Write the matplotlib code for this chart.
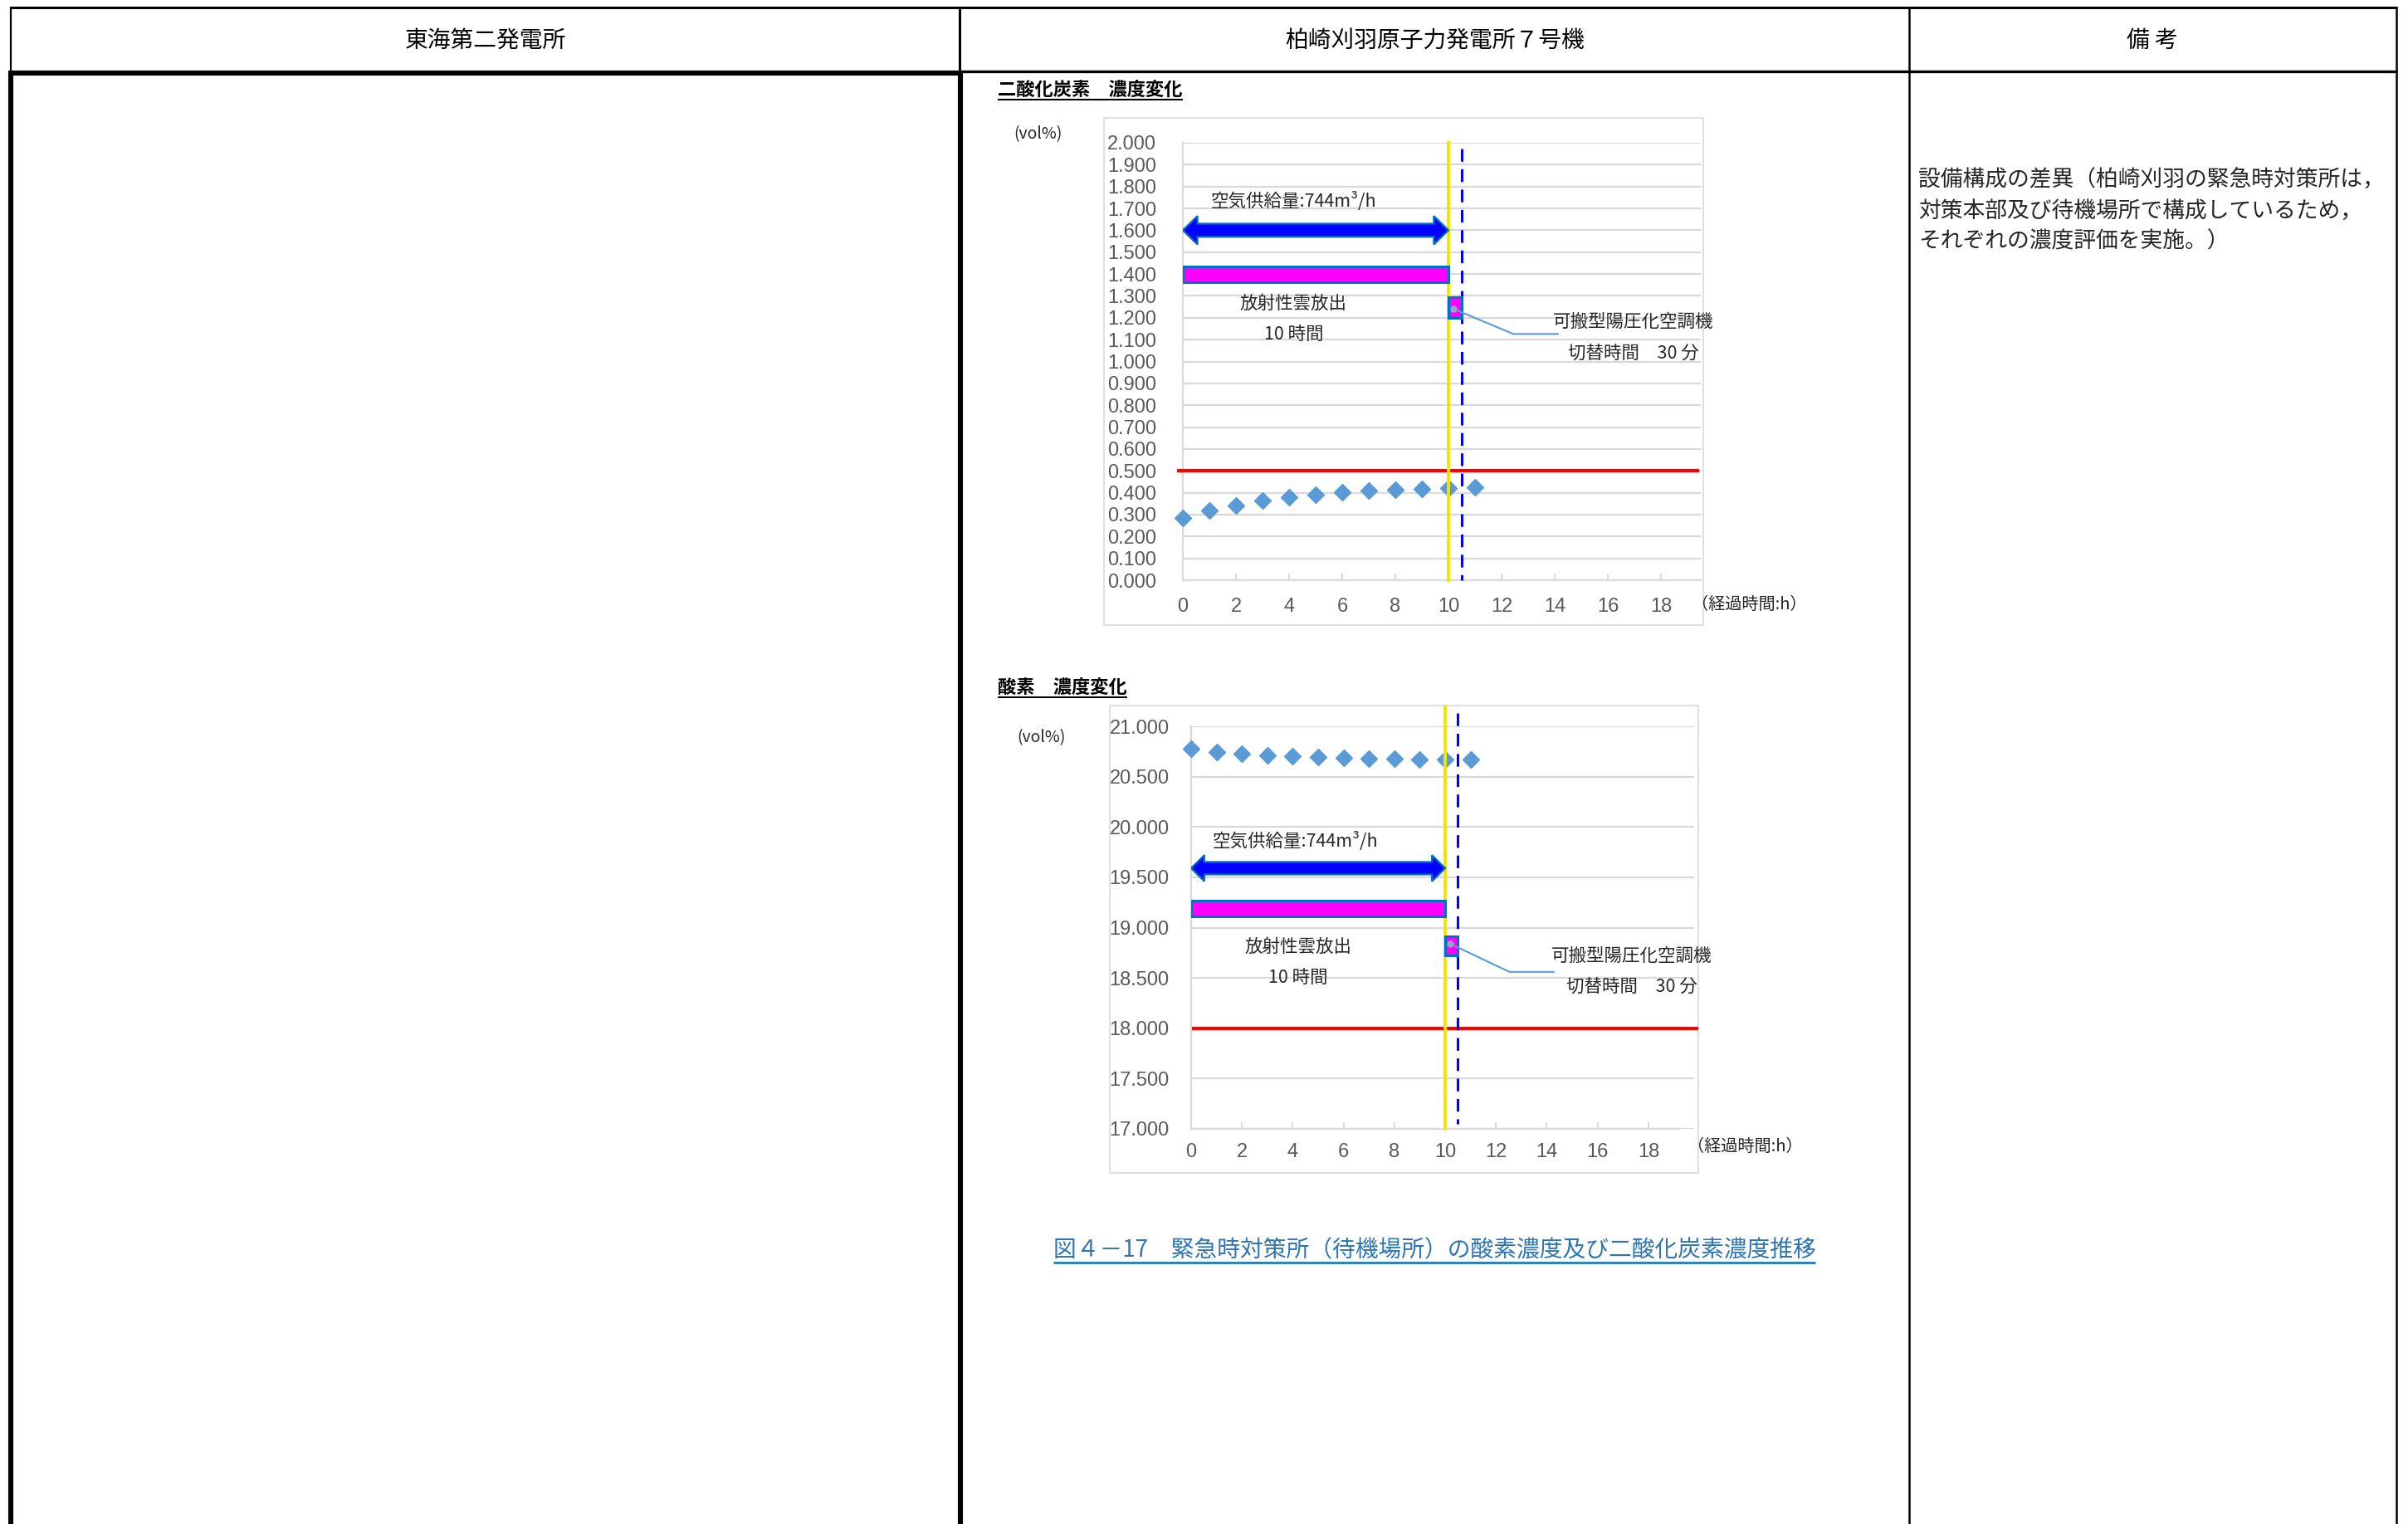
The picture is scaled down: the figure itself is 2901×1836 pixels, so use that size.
import matplotlib
matplotlib.use("Agg")
import matplotlib.pyplot as plt
from matplotlib.patches import Polygon, Rectangle

plt.rcParams['font.family'] = ['Noto Sans CJK JP', 'DejaVu Sans']

W, H = 2901, 1836

# ---- data ----
hours = [0, 1, 2, 3, 4, 5, 6, 7, 8, 9, 10, 11]
co2 = [0.285, 0.318, 0.343, 0.364, 0.380, 0.392, 0.402, 0.408, 0.413, 0.416, 0.420, 0.425]
o2 = [20.775, 20.748, 20.730, 20.712, 20.700, 20.693, 20.686, 20.680, 20.676, 20.670, 20.667, 20.670]
co2_limit = 0.5
o2_limit = 18.0
release_hours = (0, 10)      # 放射性雲放出 10時間
switch_hours = (10, 10.5)    # 切替時間 30分
x_ticks = [0, 2, 4, 6, 8, 10, 12, 14, 16, 18]
co2_ticks = [0.0, 0.1, 0.2, 0.3, 0.4, 0.5, 0.6, 0.7, 0.8, 0.9, 1.0,
             1.1, 1.2, 1.3, 1.4, 1.5, 1.6, 1.7, 1.8, 1.9, 2.0]
o2_ticks = [17.0, 17.5, 18.0, 18.5, 19.0, 19.5, 20.0, 20.5, 21.0]

headers = ['東海第二発電所', '柏崎刈羽原子力発電所７号機', '備 考']
remarks = ['設備構成の差異（柏崎刈羽の緊急時対策所は，',
           '対策本部及び待機場所で構成しているため，',
           'それぞれの濃度評価を実施。）']
caption = '図４－17　緊急時対策所（待機場所）の酸素濃度及び二酸化炭素濃度推移'
titles = ['二酸化炭素　濃度変化', '酸素　濃度変化']

BLUE_PT = '#5B9BD5'
EDGE = '#0070C0'
GRID = '#D9D9D9'
TICK = '#595959'
TXT = '#262626'

fig = plt.figure(figsize=(W / 100, H / 100), dpi=100)
bg = fig.add_axes([0, 0, 1, 1])
bg.set_xlim(0, W)
bg.set_ylim(H, 0)
bg.axis('off')

# ---- table frame ----
def hline(y, x0, x1, lw):
    bg.plot([x0, x1], [y, y], color='black', lw=lw, solid_capstyle='butt')

def vline(x, y0, y1, lw):
    bg.plot([x, x], [y0, y1], color='black', lw=lw, solid_capstyle='butt')

hline(9, 12, 2888, 2.2)
vline(13, 8, 88, 1.6)
vline(13, 85, H, 4.4)
hline(88, 10, 1160, 4.4)
hline(86, 1157, 2888, 2.4)
vline(1155.5, 8, 88, 2.2)
vline(1157, 85, H, 4.4)
vline(2300, 8, H, 1.8)
vline(2887, 8, H, 1.8)

for cx, s in zip([585, 1728, 2593], headers):
    bg.text(cx, 49, s, ha='center', va='center', fontsize=20, color='black')

for i, line in enumerate(remarks):
    bg.text(2311, 217 + i * 37, line, ha='left', va='center', fontsize=19.3, color=TXT)

underlined = []
t1 = bg.text(1202, 115, titles[0], ha='left', va='baseline', fontsize=16,
             fontweight='bold', color='black')
t2 = bg.text(1202, 835, titles[1], ha='left', va='baseline', fontsize=16,
             fontweight='bold', color='black')
cap = bg.text(1728, 1514, caption, ha='center', va='baseline', fontsize=20, color='#2E75B6')
underlined += [(t1, 120, 'black', 1.5), (t2, 840, 'black', 1.5), (cap, 1521, EDGE, 1.8)]

# light chart-area frames
bg.add_patch(Rectangle((1330, 142), 722, 611, fc='none', ec=GRID, lw=1.2))
bg.add_patch(Rectangle((1337, 850), 709, 563, fc='none', ec=GRID, lw=1.2))

bg.text(1221, 162, '(vol%)', ha='left', va='center', fontsize=14, color=TXT)
bg.text(1225, 889, '(vol%)', ha='left', va='center', fontsize=14, color=TXT)
bg.text(2038, 728, '（経過時間:h）', ha='left', va='center', fontsize=14.5, color=TXT)
bg.text(2033, 1381, '（経過時間:h）', ha='left', va='center', fontsize=14.5, color=TXT)


def draw_chart(px, xlim, ylim, yticks, values, limit, lay):
    l, t, r, b = px
    ax = fig.add_axes([l / W, 1 - b / H, (r - l) / W, (b - t) / H])
    ax.set_facecolor('none')
    ax.set_xlim(*xlim)
    ax.set_ylim(*ylim)
    ax.set_xticks(x_ticks)
    ax.set_yticks(yticks)
    ax.set_yticklabels(['%.3f' % v for v in yticks])
    ax.yaxis.grid(True, color=GRID, lw=1.6)
    ax.set_axisbelow(True)
    for side in ['top', 'right']:
        ax.spines[side].set_visible(False)
    for side in ['left', 'bottom']:
        ax.spines[side].set_color(GRID)
        ax.spines[side].set_linewidth(1.6)
    if lay.get('axis_end'):
        ax.spines['bottom'].set_bounds(xlim[0], lay['axis_end'])
    ax.tick_params(axis='x', direction='in', length=6, width=1.4, color=GRID,
                   labelsize=17, labelcolor=TICK, pad=lay['xpad'],
                   labelfontfamily='Liberation Sans')
    ax.tick_params(axis='y', length=0, labelsize=17, labelcolor=TICK,
                   pad=lay['ypad'], labelfontfamily='Liberation Sans')

    # limit line
    ax.plot(lay['limit_x'], [limit, limit], color='#FF0000', lw=3, clip_on=False, zorder=3)
    # data points
    ax.plot(hours, values, ls='none', marker='D', ms=10, color=BLUE_PT,
            mec=BLUE_PT, clip_on=False, zorder=4)
    # end of release / switch-over
    ax.plot([release_hours[1]] * 2, lay['yellow_y'], color='#F2E600', lw=2.8,
            clip_on=False, zorder=5)
    ax.plot([switch_hours[1]] * 2, lay['dash_y'], color='#0000FF', lw=2.2,
            dashes=(5, 3), clip_on=False, zorder=5)

    # double arrow: air supply during the release
    x0, x1 = release_hours
    y, s, h, L = lay['arrow']
    pts = [(x0, y), (x0 + L, y + h), (x0 + L, y + s), (x1 - L, y + s), (x1 - L, y + h),
           (x1, y), (x1 - L, y - h), (x1 - L, y - s), (x0 + L, y - s), (x0 + L, y - h)]
    ax.add_patch(Polygon(pts, closed=True, fc='#0000FF', ec=EDGE, lw=1.6, zorder=6))

    # release bar
    by0, by1 = lay['bar']
    ax.add_patch(Rectangle((x0, by0), x1 - x0, by1 - by0, fc='#FF00FF', ec=EDGE,
                           lw=2.2, zorder=6))
    # switch-over box
    sy0, sy1 = lay['box']
    ax.add_patch(Rectangle((switch_hours[0], sy0), switch_hours[1] - switch_hours[0],
                           sy1 - sy0, fc='#FF00FF', ec=EDGE, lw=2.2, zorder=6))
    lx, ly = lay['leader']
    ax.plot(lx, ly, color=BLUE_PT, lw=1.5, zorder=7, clip_on=False)
    ax.plot(lx[0], ly[0], marker='o', ms=5, color='#8EA9C8', zorder=8)

    for (tx, ty), s_ in zip(lay['texts'], ['空気供給量:744m³/h', '放射性雲放出', '10 時間',
                                            '可搬型陽圧化空調機', '切替時間　30 分']):
        ax.text(tx, ty, s_, ha='center', va='center', fontsize=15.5, color=TXT,
                zorder=9, clip_on=False)
    return ax


draw_chart((1425, 172, 2049, 699), (0, 19.5), (0, 2.0), co2_ticks, co2, co2_limit, {
    'xpad': 15, 'ypad': 23,
    'limit_x': [-0.16, 19.36],
    'yellow_y': [0, 2.0], 'dash_y': [1.972, 0.0],
    'arrow': (1.6, 0.03, 0.065, 0.55),
    'bar': (1.362, 1.435), 'box': (1.2, 1.296),
    'leader': ([10.2, 12.44, 14.12], [1.24, 1.126, 1.126]),
    'texts': [(4.17, 1.734), (4.17, 1.264), (4.17, 1.123), (16.95, 1.18), (16.95, 1.038)],
})

draw_chart((1435, 875, 2041, 1360), (0, 19.8), (17.0, 21.0), o2_ticks, o2, o2_limit, {
    'xpad': 12.5, 'ypad': 19, 'axis_end': 19.2,
    'limit_x': [0.1, 19.9],
    'yellow_y': [17.0, 21.19], 'dash_y': [21.13, 17.05],
    'arrow': (19.59, 0.062, 0.13, 0.52),
    'bar': (19.11, 19.27), 'box': (18.72, 18.91),
    'leader': ([10.19, 12.53, 14.27], [18.84, 18.56, 18.56]),
    'texts': [(4.1, 19.86), (4.2, 18.81), (4.2, 18.50), (17.34, 18.72), (17.34, 18.41)],
})

# underline titles and caption
fig.canvas.draw()
rend = fig.canvas.get_renderer()
for t, y, c, lw in underlined:
    bb = t.get_window_extent(rend)
    bg.plot([bb.x0, bb.x1], [y, y], color=c, lw=lw, solid_capstyle='butt')

fig.savefig('out.png', dpi=100)
